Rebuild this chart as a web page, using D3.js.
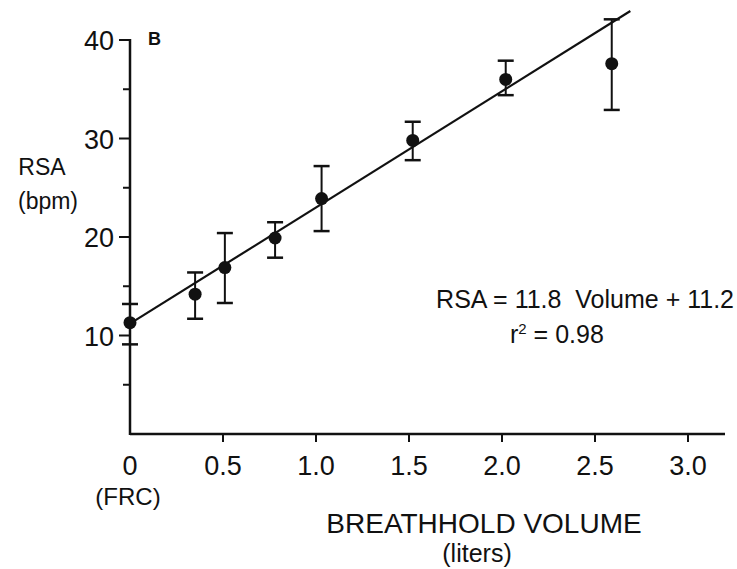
<!DOCTYPE html>
<html>
<head>
<meta charset="utf-8">
<script src="https://cdn.jsdelivr.net/npm/d3@7"></script>
<style>
  html, body { margin: 0; padding: 0; background: #fff; }
  svg { display: block; }
  text { font-family: "Liberation Sans", Arial, sans-serif; fill: #111; }
</style>
</head>
<body>
<script>
// Breathhold volume (liters) and respiratory sinus arrhythmia (bpm), mean ± error
const volume = [0, 0.35, 0.51, 0.78, 1.03, 1.52, 2.02, 2.59];
const rsa    = [11.3, 14.2, 16.9, 19.9, 23.9, 29.8, 36.0, 37.6];
const rsaHigh = [13.2, 16.4, 20.4, 21.5, 27.2, 31.7, 37.9, 42.1];
const rsaLow  = [9.1, 11.7, 13.3, 17.9, 20.6, 27.8, 34.4, 32.9];

// Regression: RSA = 11.8 Volume + 11.2
const fitSlope = 11.8;
const fitIntercept = 11.2;
const fitRange = [0, 2.69];

const xTicks = [0.5, 1.0, 1.5, 2.0, 2.5, 3.0];
const xTickLabels = ["0.5", "1.0", "1.5", "2.0", "2.5", "3.0"];
const yMajorTicks = [10, 20, 30, 40];
const yMinorTicks = [5, 15, 25, 35];

const W = 737, H = 569;
const svg = d3.select("body").append("svg").attr("width", W).attr("height", H);

const x = d3.scaleLinear().domain([0, 3]).range([130, 688]);
const y = d3.scaleLinear().domain([0, 40]).range([434, 40]);

const ink = "#111";

// axes
svg.append("line").attr("x1", x(0)).attr("x2", 725).attr("y1", y(0)).attr("y2", y(0))
  .attr("stroke", ink).attr("stroke-width", 2.5);
svg.append("line").attr("x1", x(0)).attr("x2", x(0)).attr("y1", y(0) + 1).attr("y2", y(40) - 1)
  .attr("stroke", ink).attr("stroke-width", 2.5);

// x ticks and labels
svg.selectAll(".xt").data(xTicks).enter().append("line")
  .attr("x1", d => x(d)).attr("x2", d => x(d))
  .attr("y1", y(0)).attr("y2", y(0) + 8)
  .attr("stroke", ink).attr("stroke-width", 2);
svg.selectAll(".xl").data(xTicks).enter().append("text")
  .attr("x", d => x(d)).attr("y", 475)
  .attr("text-anchor", "middle").attr("font-size", 27)
  .text((d, i) => xTickLabels[i]);
svg.append("text").attr("x", x(0)).attr("y", 475)
  .attr("text-anchor", "middle").attr("font-size", 27).text("0");
svg.append("text").attr("x", 128).attr("y", 505)
  .attr("text-anchor", "middle").attr("font-size", 24).text("(FRC)");

// y ticks and labels
svg.selectAll(".yt").data(yMajorTicks).enter().append("line")
  .attr("x1", x(0) - 11).attr("x2", x(0))
  .attr("y1", d => y(d)).attr("y2", d => y(d))
  .attr("stroke", ink).attr("stroke-width", 2);
svg.selectAll(".ym").data(yMinorTicks).enter().append("line")
  .attr("x1", x(0) - 7).attr("x2", x(0))
  .attr("y1", d => y(d)).attr("y2", d => y(d))
  .attr("stroke", ink).attr("stroke-width", 2);
svg.selectAll(".yl").data(yMajorTicks).enter().append("text")
  .attr("x", 114).attr("y", d => y(d) + 10)
  .attr("text-anchor", "end").attr("font-size", 27)
  .text(d => d);

// axis titles
svg.append("text").attr("x", 42).attr("y", 175).attr("text-anchor", "middle")
  .attr("font-size", 23).text("RSA");
svg.append("text").attr("x", 48).attr("y", 209).attr("text-anchor", "middle")
  .attr("font-size", 23).text("(bpm)");
svg.append("text").attr("x", 484).attr("y", 533).attr("text-anchor", "middle")
  .attr("font-size", 28).text("BREATHHOLD VOLUME");
svg.append("text").attr("x", 477).attr("y", 562).attr("text-anchor", "middle")
  .attr("font-size", 25).text("(liters)");
svg.append("text").attr("x", 148).attr("y", 45)
  .attr("font-size", 18).attr("font-weight", "bold").text("B");

// regression line
svg.append("line")
  .attr("x1", x(fitRange[0])).attr("y1", y(fitSlope * fitRange[0] + fitIntercept))
  .attr("x2", x(fitRange[1])).attr("y2", y(fitSlope * fitRange[1] + fitIntercept))
  .attr("stroke", ink).attr("stroke-width", 2.2);

// error bars
const pts = volume.map((v, i) => ({ v, m: rsa[i], hi: rsaHigh[i], lo: rsaLow[i] }));
const cap = 8;
const g = svg.append("g");
pts.forEach(p => {
  g.append("line").attr("x1", x(p.v)).attr("x2", x(p.v))
    .attr("y1", y(p.hi)).attr("y2", y(p.lo))
    .attr("stroke", ink).attr("stroke-width", 2);
  [p.hi, p.lo].forEach(e => {
    g.append("line").attr("x1", x(p.v) - cap).attr("x2", x(p.v) + cap)
      .attr("y1", y(e)).attr("y2", y(e))
      .attr("stroke", ink).attr("stroke-width", 2.5);
  });
});
g.selectAll("circle").data(pts).enter().append("circle")
  .attr("cx", d => x(d.v)).attr("cy", d => y(d.m)).attr("r", 6.5).attr("fill", ink);

// fit annotation
svg.append("text").attr("x", 734).attr("y", 308).attr("text-anchor", "end")
  .attr("font-size", 25).attr("xml:space", "preserve")
  .text("RSA = 11.8  Volume + 11.2");
const r2 = svg.append("text").attr("x", 510).attr("y", 343).attr("font-size", 25);
r2.append("tspan").text("r");
r2.append("tspan").attr("font-size", 15).attr("dy", -9).text("2");
r2.append("tspan").attr("dy", 9).text(" = 0.98");
</script>
</body>
</html>
